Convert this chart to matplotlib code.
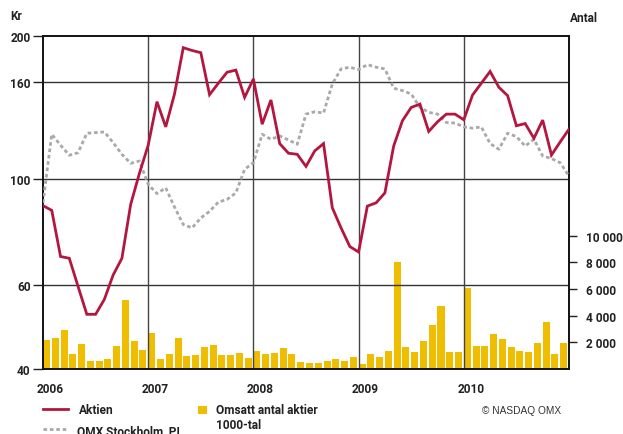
import matplotlib
matplotlib.use("Agg")
import matplotlib.pyplot as plt
from matplotlib.lines import Line2D
from matplotlib.patches import Rectangle
from matplotlib.ticker import FixedLocator, NullLocator, NullFormatter

# ---------------- data ----------------
years = ["2006", "2007", "2008", "2009", "2010"]
left_ticks = [40, 60, 100, 160, 200]
right_ticks = [2000, 4000, 6000, 8000, 10000]
right_labels = ["2 000", "4 000", "6 000", "8 000", "10 000"]

# monthly closing values, Jan 2006 ... Jan 2011 (61 points)
aktien = [88.1, 86.1, 68.9, 68.3, 59.6, 52.1, 52.1, 56.0, 63.0, 68.3, 88.6, 103,
          118.0, 145.6, 128.9, 151.1, 189, 186.5, 184.5, 150.6, 159.2, 167.9, 169.6, 148.7,
          162.5, 130.6, 146.8, 118.9, 113.5, 112.9, 106.5, 114.8, 118.9, 87.2, 79.1, 72.3,
          70.4, 87.9, 89.3, 93.7, 117.5, 132.8, 141.6, 143.9, 126.1, 132.1, 137.1, 137.1,
          133.4, 150.4, 159.2, 168.5, 156.1, 149.9, 129.6, 131.0, 122.0, 133.2, 112.5, 119.9, 127.5]
omx = [89.3, 124.4, 118.0, 112.4, 113.8, 125.0, 125.4, 125.8, 119.5, 112.9, 108.1, 109.3,
       97.6, 93.4, 96.0, 87.5, 80.4, 79.1, 83.0, 85.7, 89.6, 90.8, 93.7, 105.0,
       108.4, 124.4, 121.4, 123.4, 121.0, 118.5, 137.1, 138.7, 137.8, 158.6, 170.6, 172.0,
       170.0, 174.2, 172.0, 170.6, 155.4, 153.6, 151.1, 141.6, 138.3, 137.1, 131.7, 131.3,
       128.9, 128.1, 128.9, 118.9, 115.7, 125.0, 123.0, 117.5, 121.4, 112.0, 110.6, 108.4, 101.6]
# monthly turnover, thousands of shares (60 months)
volume = [2200, 2300, 2950, 1100, 1900, 625, 625, 775, 1700, 5200, 2125, 1450,
          2725, 775, 1100, 2350, 950, 1025, 1625, 1775, 1025, 1025, 1225, 850,
          1375, 1150, 1225, 1600, 1100, 550, 475, 475, 625, 775, 625, 925,
          400, 1150, 925, 1375, 8050, 1675, 1300, 2125, 3325, 4750, 1300, 1300,
          6100, 1750, 1750, 2650, 2275, 1675, 1375, 1300, 1975, 3550, 1150, 1975]

# ---------------- style ----------------
RED = "#B3163F"
GREY = "#A9A9A9"
YELLOW = "#F0BE00"
FONT = "Roboto"

W, H = 623, 435
fig = plt.figure(figsize=(W / 100, H / 100), dpi=100)
ax_l, ax_r, ax_t, ax_b = 43, 569, 37, 370
ax = fig.add_axes([ax_l / W, 1 - ax_b / H, (ax_r - ax_l) / W, (ax_b - ax_t) / H])
ax2 = ax.twinx()
ax.set_zorder(ax2.get_zorder() + 1)
ax.patch.set_visible(False)

# bars on the right axis
months_bar = list(range(len(volume)))
ax2.bar(months_bar, volume, width=0.8, align="edge", color=YELLOW, linewidth=0)
ax2.set_ylim(0, 25000)
ax2.yaxis.set_major_locator(FixedLocator(right_ticks))
ax2.set_yticklabels(right_labels, fontfamily=FONT, fontweight="bold", fontsize=8.6, color="#222222")
ax2.tick_params(axis="y", direction="out", length=6, width=1, pad=6.5, colors="#222222")
ax2.yaxis.set_minor_locator(NullLocator())

# lines on the left (log) axis
months_line = list(range(len(aktien)))
ax.plot(months_line, omx, color=GREY, lw=2.0, linestyle=(0, (1.3, 1.0)), zorder=3)
ax.plot(months_line, aktien, color=RED, lw=2.0, zorder=4, solid_joinstyle="miter")
ax.set_yscale("log")
ax.set_ylim(40, 200)
ax.set_xlim(0, 60)
ax.yaxis.set_major_locator(FixedLocator(left_ticks))
ax.yaxis.set_minor_locator(NullLocator())
ax.yaxis.set_minor_formatter(NullFormatter())
ax.set_yticklabels([str(v) for v in left_ticks], fontfamily=FONT, fontweight="bold",
                   fontsize=8.6, color="#222222")
ax.tick_params(axis="y", direction="out", length=7, width=1, pad=2, colors="#222222")
ax.set_xticks([])

for v in [60, 100, 160]:
    ax.axhline(v, color="#333333", lw=1.0, zorder=2)
for k in range(1, 5):
    ax.axvline(12 * k, color="#444444", lw=1.0, zorder=2)

for a in (ax, ax2):
    for s in a.spines.values():
        s.set_color("#111111")
        s.set_linewidth(1.2)

# year labels
for k, yl in enumerate(years):
    ax.text(12 * k + 0.8, -0.04, yl, transform=ax.get_xaxis_transform(), ha="center", va="top",
            fontfamily=FONT, fontweight="bold", fontsize=8.6, color="#222222")

# axis titles
fig.text(10 / W, 1 - 17 / H, "Kr", ha="left", va="center", fontfamily=FONT,
         fontweight="bold", fontsize=8.6, color="#222222")
fig.text(570 / W, 1 - 18 / H, "Antal", ha="left", va="center", fontfamily=FONT,
         fontweight="bold", fontsize=8.6, color="#222222")

# legend
def fx(x):
    return x / W

def fy(y):
    return 1 - y / H

fig.add_artist(Line2D([fx(43), fx(68)], [fy(410), fy(410)], color=RED, lw=2.0,
                      transform=fig.transFigure))
fig.text(fx(79), fy(410.5), "Aktien", ha="left", va="center", fontfamily=FONT,
         fontweight="bold", fontsize=8.6, color="#222222")
fig.add_artist(Line2D([fx(43), fx(68)], [fy(430), fy(430)], color=GREY, lw=2.0,
                      linestyle=(0, (1.3, 1.0)), transform=fig.transFigure))
fig.text(fx(77), fy(432), "OMX Stockholm_PI", ha="left", va="center", fontfamily=FONT,
         fontweight="bold", fontsize=8.6, color="#222222")
fig.add_artist(Rectangle((fx(198), fy(415)), fx(207) - fx(198), fy(407) - fy(415),
                         color=YELLOW, transform=fig.transFigure, lw=0))
fig.text(fx(216), fy(411), "Omsatt antal aktier", ha="left", va="center", fontfamily=FONT,
         fontweight="bold", fontsize=8.6, color="#222222")
fig.text(fx(216), fy(426), "1000-tal", ha="left", va="center", fontfamily=FONT,
         fontweight="bold", fontsize=8.6, color="#222222")
fig.text(fx(482), fy(411), "© NASDAQ OMX", ha="left", va="center", fontfamily="Liberation Sans",
         fontsize=7.3, color="#333333")

fig.savefig("out.png", dpi=100)
